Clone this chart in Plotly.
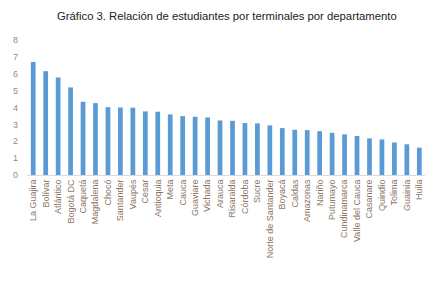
import plotly.graph_objects as go

departamentos = ["La Guajira", "Bolívar", "Atlántico", "Bogotá DC", "Caquetá", "Magdalena",
                 "Chocó", "Santander", "Vaupés", "Cesar", "Antioquia", "Meta", "Cauca",
                 "Guaviare", "Vichada", "Arauca", "Risaralda", "Córdoba", "Sucre",
                 "Norte de Santander", "Boyacá", "Caldas", "Amazonas", "Nariño", "Putumayo",
                 "Cundinamarca", "Valle del Cauca", "Casanare", "Quindío", "Tolima",
                 "Guainía", "Huila", "Archipiélago de San Andrés"]
relacion = [6.7, 6.15, 5.78, 5.19, 4.34, 4.26, 4.02, 4.0, 3.99, 3.77, 3.75, 3.59, 3.49,
            3.45, 3.41, 3.23, 3.21, 3.08, 3.06, 2.94, 2.78, 2.68, 2.66, 2.60, 2.50,
            2.41, 2.31, 2.17, 2.11, 1.93, 1.82, 1.62, 1.26]
y_ticks = [0, 1, 2, 3, 4, 5, 6, 7, 8]

fig = go.Figure(go.Bar(
    x=departamentos, y=relacion,
    marker=dict(color="#5B9BD5", line=dict(width=0)),
    cliponaxis=False,
))

fig.update_layout(
    width=425, height=277,
    margin=dict(l=19, r=0, t=32, b=110),
    paper_bgcolor="white", plot_bgcolor="white",
    bargap=0.62,
    showlegend=False,
    title=dict(text="Gráfico 3. Relación de estudiantes por terminales por departamento",
               x=0.515, xanchor="center", y=1 - 8 / 277, yanchor="middle",
               font=dict(family="Liberation Sans, Arial, sans-serif", size=11.3, color="#222222")),
    xaxis=dict(
        type="category", categoryorder="array", categoryarray=departamentos,
        range=[-0.5, 32.1], tickangle=-90, ticklabeloverflow="allow",
        tickfont=dict(family="Liberation Sans, Arial, sans-serif", size=9, color="#8a7565"),
        showline=True, linecolor="#d9d9d9", linewidth=1, ticks="", showgrid=False,
        zeroline=False, automargin=False,
    ),
    yaxis=dict(
        range=[0, 8], tickvals=y_ticks,
        tickfont=dict(family="Liberation Sans, Arial, sans-serif", size=9, color="#8c8c8c"),
        showgrid=False, zeroline=False, showline=False, ticks="",
        ticklabelstandoff=8, automargin=False,
    ),
)

fig.write_html("out.html")
